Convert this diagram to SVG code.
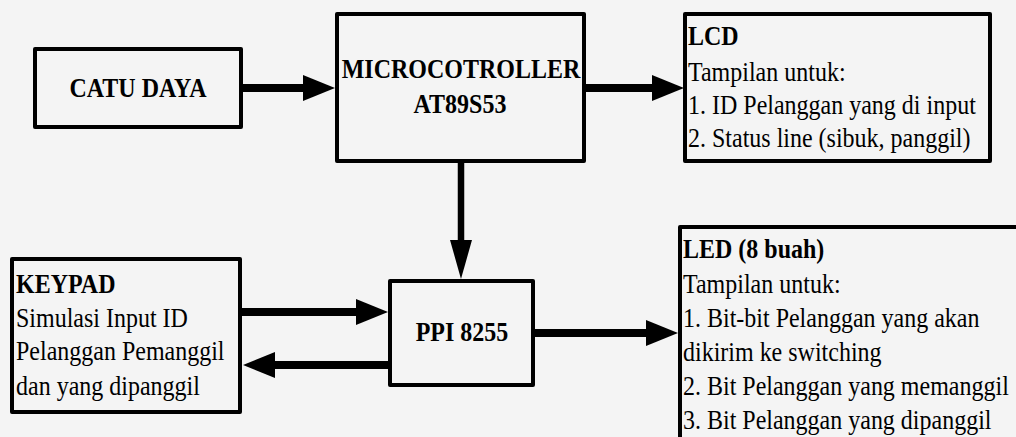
<svg xmlns="http://www.w3.org/2000/svg" width="1016" height="437" viewBox="0 0 1016 437">
  <style>
    .box { fill: none; stroke: #000; stroke-width: 4; stroke-linejoin: round; }
    text { font-family: 'Liberation Serif', 'DejaVu Serif', 'Times New Roman', serif; font-size: 24px; fill: #000; }
    .b { font-weight: bold; }
    .c { text-anchor: middle; }
    .h { fill: none; stroke: #000; stroke-width: 8; }
    .v { fill: none; stroke: #000; stroke-width: 6.5; }
  </style>
  <defs>
    <marker id="ah" markerUnits="userSpaceOnUse" markerWidth="34" markerHeight="28" refX="0" refY="13" orient="auto">
      <path d="M0,0 L32,13 L0,26 z" fill="#000"/>
    </marker>
    <marker id="av" markerUnits="userSpaceOnUse" markerWidth="40" markerHeight="24" refX="0" refY="11" orient="auto">
      <path d="M0,0 L39,11 L0,22 z" fill="#000"/>
    </marker>
  </defs>
  <rect x="0" y="0" width="1016" height="437" fill="#f4f4f4"/>

  <g id="connectors">
    <path class="h" d="M241,88 H303" marker-end="url(#ah)"/>
    <path class="h" d="M586,88 H652" marker-end="url(#ah)"/>
    <path class="v" d="M461,163 V240" marker-end="url(#av)"/>
    <path class="h" d="M242,312 H356" marker-end="url(#ah)"/>
    <path class="h" d="M388,365 H275" marker-end="url(#ah)"/>
    <path class="h" d="M535,333 H646" marker-end="url(#ah)"/>
  </g>

  <g id="catu-daya">
    <rect class="box" x="35" y="49" width="206" height="78"/>
    <text class="b c" font-family="Liberation Serif, serif" transform="translate(138,97) scale(1,1.12)">CATU DAYA</text>
  </g>

  <g id="microcontroller">
    <rect class="box" x="337" y="14" width="247" height="147"/>
    <text class="b c" font-family="Liberation Serif, serif" transform="translate(461,78) scale(1,1.12)">MICROCOTROLLER</text>
    <text class="b c" font-family="Liberation Serif, serif" transform="translate(460,112.5) scale(1,1.12)">AT89S53</text>
  </g>

  <g id="lcd">
    <rect class="box" x="685" y="14" width="305" height="147"/>
    <text class="b" font-family="Liberation Serif, serif" transform="translate(688,45) scale(1,1.12)">LCD</text>
    <text font-family="Liberation Serif, serif" transform="translate(688,81) scale(1,1.12)">Tampilan untuk:</text>
    <text font-family="Liberation Serif, serif" transform="translate(688,114) scale(1,1.12)">1. ID Pelanggan yang di input</text>
    <text font-family="Liberation Serif, serif" transform="translate(688,147) scale(1,1.12)">2. Status line (sibuk, panggil)</text>
  </g>

  <g id="keypad">
    <rect class="box" x="12" y="259" width="228" height="153"/>
    <text class="b" font-family="Liberation Serif, serif" transform="translate(16,293) scale(1,1.12)">KEYPAD</text>
    <text font-family="Liberation Serif, serif" transform="translate(16,327) scale(1,1.12)">Simulasi Input ID</text>
    <text font-family="Liberation Serif, serif" transform="translate(16,360) scale(1,1.12)">Pelanggan Pemanggil</text>
    <text font-family="Liberation Serif, serif" transform="translate(16,395) scale(1,1.12)">dan yang dipanggil</text>
  </g>

  <g id="ppi">
    <rect class="box" x="390" y="281" width="143" height="104"/>
    <text class="b c" font-family="Liberation Serif, serif" transform="translate(462,341) scale(1,1.12)">PPI 8255</text>
  </g>

  <g id="led">
    <rect class="box" x="680" y="227" width="400" height="260"/>
    <text class="b" font-family="Liberation Serif, serif" transform="translate(683,258) scale(1,1.12)">LED (8 buah)</text>
    <text font-family="Liberation Serif, serif" transform="translate(683,293) scale(1,1.12)">Tampilan untuk:</text>
    <text font-family="Liberation Serif, serif" transform="translate(683,327) scale(1,1.12)">1. Bit-bit Pelanggan yang akan</text>
    <text font-family="Liberation Serif, serif" transform="translate(683,361) scale(1,1.12)">dikirim ke switching</text>
    <text font-family="Liberation Serif, serif" transform="translate(683,395) scale(1,1.12)">2. Bit Pelanggan yang memanggil</text>
    <text font-family="Liberation Serif, serif" transform="translate(683,429) scale(1,1.12)">3. Bit Pelanggan yang dipanggil</text>
  </g>
</svg>
